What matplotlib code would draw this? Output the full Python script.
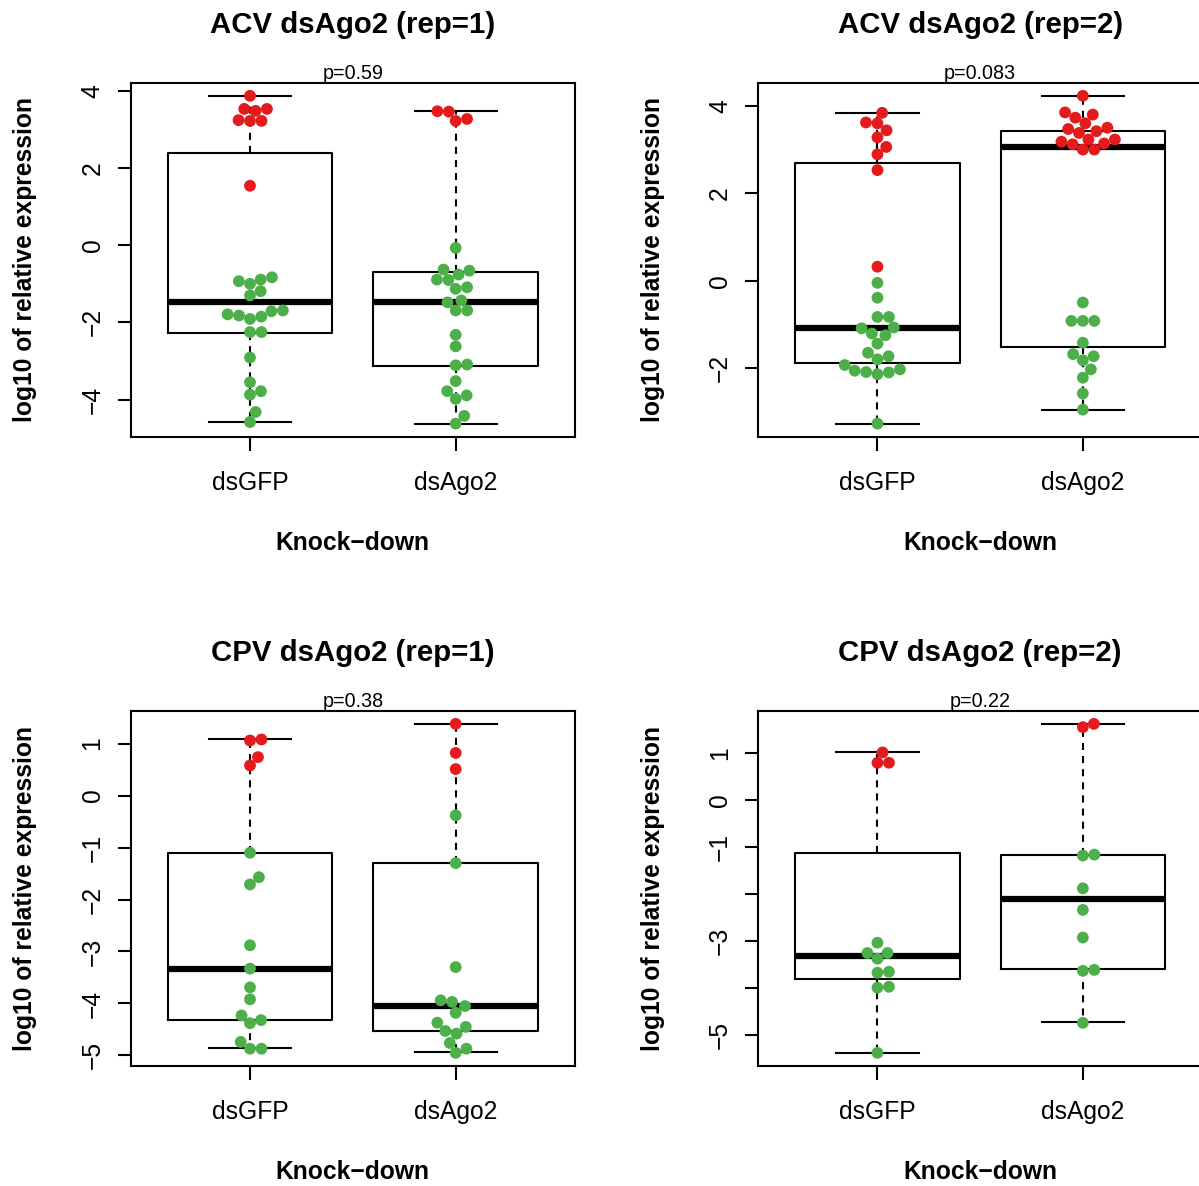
import numpy as np
import matplotlib
matplotlib.use('Agg')
import matplotlib.pyplot as plt
from matplotlib.transforms import offset_copy

plt.rcParams['font.family'] = ['Liberation Sans', 'DejaVu Sans']

# grupos do eixo x
grupos = ['dsGFP', 'dsAgo2']

# ACV dsAgo2 (rep=1)
acv1_gfp = [3.87, 3.53, 3.53, 3.48, 3.24, 3.22, 3.22, 1.54, -0.83, -0.89, -0.93, -1.00,
            -1.19, -1.30, -1.69, -1.71, -1.79, -1.82, -1.85, -1.91, -2.25, -2.25, -2.91,
            -3.55, -3.78, -3.87, -4.32, -4.58]
acv1_ago2 = [3.47, 3.46, 3.27, 3.22, -0.07, -0.63, -0.66, -0.76, -0.89, -0.90, -1.09, -1.13,
             -1.43, -1.48, -1.69, -1.69, -2.32, -2.62, -3.09, -3.11, -3.52, -3.78, -3.89,
             -3.98, -4.42, -4.62]
# caixas: [min, q1, mediana, q3, max]
acv1_caixa_gfp = [-4.58, -2.27, -1.47, 2.38, 3.87]
acv1_caixa_ago2 = [-4.62, -3.13, -1.47, -0.70, 3.48]

# ACV dsAgo2 (rep=2)
acv2_gfp = [3.84, 3.62, 3.60, 3.44, 3.28, 3.06, 2.89, 2.53, 0.32, -0.05, -0.39, -0.83, -0.83,
            -1.07, -1.09, -1.21, -1.25, -1.44, -1.65, -1.73, -1.80, -1.93, -2.03, -2.06,
            -2.09, -2.10, -2.14, -3.27]
acv2_ago2 = [4.23, 3.85, 3.80, 3.73, 3.60, 3.50, 3.47, 3.42, 3.38, 3.23, 3.23, 3.18, 3.14,
             3.12, 3.00, 3.00, -0.50, -0.92, -0.92, -0.92, -1.42, -1.68, -1.73, -1.82,
             -2.03, -2.22, -2.58, -2.95]
acv2_caixa_gfp = [-3.27, -1.88, -1.09, 2.70, 3.84]
acv2_caixa_ago2 = [-2.95, -1.51, 3.06, 3.42, 4.23]

# CPV dsAgo2 (rep=1)
cpv1_gfp = [1.08, 1.06, 0.74, 0.58, -1.10, -1.57, -1.71, -2.88, -3.33, -3.69, -3.92, -4.23,
            -4.32, -4.38, -4.74, -4.87, -4.87]
cpv1_ago2 = [1.38, 0.82, 0.51, -0.38, -1.30, -3.30, -3.94, -3.97, -4.05, -4.18, -4.37, -4.45,
             -4.53, -4.58, -4.76, -4.87, -4.95]
cpv1_caixa_gfp = [-4.85, -4.32, -3.33, -1.10, 1.08]
cpv1_caixa_ago2 = [-4.94, -4.53, -4.05, -1.30, 1.38]

# CPV dsAgo2 (rep=2)
cpv2_gfp = [1.02, 0.80, 0.80, -3.04, -3.26, -3.26, -3.38, -3.68, -3.66, -4.00, -3.98, -5.39]
cpv2_ago2 = [1.63, 1.56, -1.18, -1.16, -1.88, -2.34, -2.93, -3.64, -3.62, -4.75]
cpv2_caixa_gfp = [-5.39, -3.82, -3.32, -1.13, 1.02]
cpv2_caixa_ago2 = [-4.74, -3.61, -2.11, -1.16, 1.63]

titulos = ['ACV dsAgo2 (rep=1)', 'ACV dsAgo2 (rep=2)', 'CPV dsAgo2 (rep=1)', 'CPV dsAgo2 (rep=2)']
p_valores = ['p=0.59', 'p=0.083', 'p=0.38', 'p=0.22']

ticks_acv1 = [-4, -2, 0, 2, 4]
rotulos_acv1 = ['\u22124', '\u22122', '0', '2', '4']
ticks_acv2 = [-2, 0, 2, 4]
rotulos_acv2 = ['\u22122', '0', '2', '4']
ticks_cpv = [-5, -4, -3, -2, -1, 0, 1]
rotulos_cpv1 = ['\u22125', '\u22124', '\u22123', '\u22122', '\u22121', '0', '1']
rotulos_cpv2 = ['\u22125', '', '\u22123', '', '\u22121', '0', '1']

cor_pos = '#E41A1C'
cor_neg = '#4DAF4A'

W, H = 1199, 1186
fig = plt.figure(figsize=(W / 100, H / 100), dpi=100)


def eixo_px(esq, topo, dir, base):
    return fig.add_axes([esq / W, 1 - base / H, (dir - esq) / W, (base - topo) / H])


def enxame(y_px, d):
    # beeswarm simples (metodo "swarm", prioridade ascendente)
    ordem = np.argsort(y_px, kind='stable')
    xs = np.zeros(len(y_px))
    colocados = []
    for i in ordem:
        cand = [0.0]
        mais, menos = [], []
        for j in colocados:
            dy = y_px[i] - y_px[j]
            if abs(dy) < d:
                dx = np.sqrt(d * d - dy * dy)
                mais.append(xs[j] + dx)
                menos.append(xs[j] - dx)
        cand += mais + menos
        melhor, melhor_abs = 0.0, np.inf
        for c in cand:
            ok = all((c - xs[j]) ** 2 + (y_px[i] - y_px[j]) ** 2 >= d * d * 0.999 for j in colocados)
            if ok and abs(c) < melhor_abs - 1e-9:
                melhor, melhor_abs = c, abs(c)
        xs[i] = melhor
        colocados.append(i)
    return xs


def painel(ax, gfp, ago2, caixa_gfp, caixa_ago2, titulo, ptxt, yticks, ylabels):
    todos = np.concatenate([gfp, ago2])
    r = todos.max() - todos.min()
    lo, hi = todos.min() - 0.04 * r, todos.max() + 0.04 * r
    ax.set_xlim(0.42, 2.58)
    ax.set_ylim(lo, hi)

    stats = [dict(whislo=c[0], q1=c[1], med=c[2], q3=c[3], whishi=c[4])
             for c in (caixa_gfp, caixa_ago2)]
    ax.bxp(stats, positions=[1, 2], widths=0.8, capwidths=0.4, showfliers=False,
           manage_ticks=False,
           boxprops=dict(color='black', lw=1.5),
           whiskerprops=dict(color='black', lw=1.5, ls=(0, (3.4, 2.9))),
           capprops=dict(color='black', lw=1.5),
           medianprops=dict(color='black', lw=4.5, solid_capstyle='butt'))

    pos = ax.get_position()
    ppu_x = pos.width * W / (2.58 - 0.42)
    ppu_y = pos.height * H / (hi - lo)
    for x0, vals in zip([1, 2], [gfp, ago2]):
        vals = np.asarray(vals)
        off = enxame(vals * ppu_y, 11.5) / ppu_x
        cores = np.where(vals > 0, cor_pos, cor_neg)
        ax.scatter(x0 + off, vals, s=72, c=cores, edgecolors='none', zorder=3)

    ax.set_xticks([1, 2], grupos, va='baseline')
    ax.set_yticks(yticks, ylabels, rotation=90, ha='center', va='center')
    ax.tick_params(axis='x', length=10, width=1.5, pad=28.4, labelsize=17.7)
    ax.tick_params(axis='y', length=9.4, width=1.5, pad=18.1, labelsize=17.7)
    for s in ax.spines.values():
        s.set_linewidth(1.5)

    ax.text(0.5, 1, titulo, transform=offset_copy(ax.transAxes, fig=fig, y=58, units='dots'),
            ha='center', va='center', fontsize=21.2, fontweight='bold')
    ax.text(0.5, 1, ptxt, transform=offset_copy(ax.transAxes, fig=fig, y=4, units='dots'),
            ha='center', va='baseline', fontsize=14.2)
    ax.text(0.5, 0, 'Knock\u2212down', transform=offset_copy(ax.transAxes, fig=fig, y=-113, units='dots'),
            ha='center', va='baseline', fontsize=17.7, fontweight='bold')
    ax.text(0, 0.5, 'log10 of relative expression',
            transform=offset_copy(ax.transAxes, fig=fig, x=-105.5, units='dots'),
            ha='center', va='center', rotation=90, fontsize=17.7, fontweight='bold')


ax1 = eixo_px(130.7, 82.7, 575, 436.7)
ax2 = eixo_px(758.3, 82.7, 1202, 436.7)
ax3 = eixo_px(130.7, 710.7, 575, 1066)
ax4 = eixo_px(758.3, 710.7, 1202, 1066)

painel(ax1, acv1_gfp, acv1_ago2, acv1_caixa_gfp, acv1_caixa_ago2, titulos[0], p_valores[0],
       ticks_acv1, rotulos_acv1)
painel(ax2, acv2_gfp, acv2_ago2, acv2_caixa_gfp, acv2_caixa_ago2, titulos[1], p_valores[1],
       ticks_acv2, rotulos_acv2)
painel(ax3, cpv1_gfp, cpv1_ago2, cpv1_caixa_gfp, cpv1_caixa_ago2, titulos[2], p_valores[2],
       ticks_cpv, rotulos_cpv1)
painel(ax4, cpv2_gfp, cpv2_ago2, cpv2_caixa_gfp, cpv2_caixa_ago2, titulos[3], p_valores[3],
       ticks_cpv, rotulos_cpv2)

fig.savefig('out.png', dpi=100)
